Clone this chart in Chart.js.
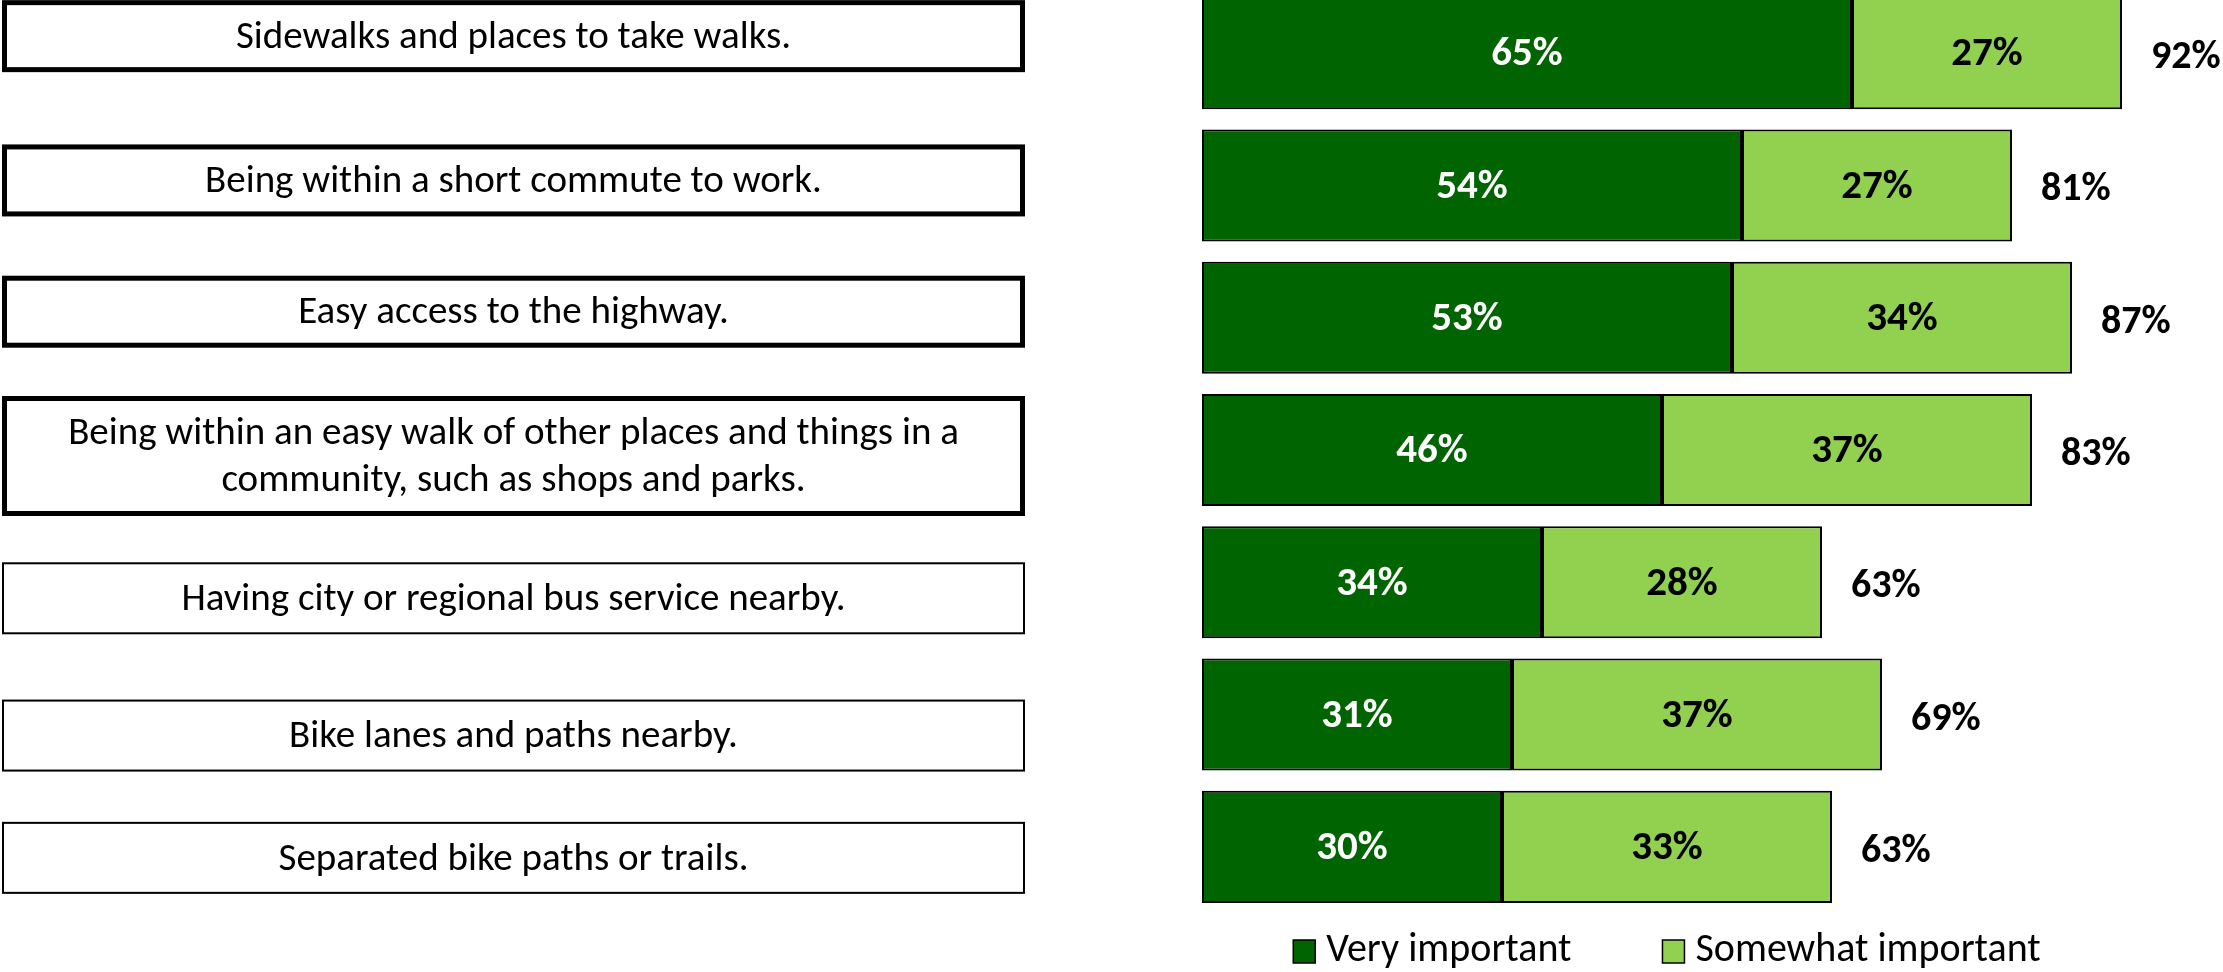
<!DOCTYPE html>
<html>
<head>
<meta charset="utf-8">
<title>Community features</title>
<script src="https://cdn.jsdelivr.net/npm/chart.js@4.4.1/dist/chart.umd.min.js"></script>
<style>
    html, body { margin: 0; padding: 0; background: #fff; overflow: hidden; }
    #wrap { position: absolute; left: 0; top: -13px; width: 2223px; height: 985px; }
</style>
</head>
<body>
<div id="wrap"><canvas id="featureChart"></canvas></div>
<script>
// 各项特征的重要程度
const categories = [
    ['Sidewalks and places to take walks.'],
    ['Being within a short commute to work.'],
    ['Easy access to the highway.'],
    ['Being within an easy walk of other places and things in a', 'community, such as shops and parks.'],
    ['Having city or regional bus service nearby.'],
    ['Bike lanes and paths nearby.'],
    ['Separated bike paths or trails.']
];
const veryImportant = [65, 54, 53, 46, 34, 31, 30];
const somewhatImportant = [27, 27, 34, 37, 28, 37, 33];
const totals = [92, 81, 87, 83, 63, 69, 63];
const seriesNames = ['Very important', 'Somewhat important'];

const FONT = '"Carlito", "Liberation Sans Narrow", "Open Sans", sans-serif';
const DARK = '#006400';
const LIGHT = '#92D050';

// 左侧的文字框
const boxShift = [-17, -5, -6, 6, 16, 21, 11];
const boxBorder = [5, 5, 5, 5, 2, 2, 2];

const labelBoxes = {
    id: 'labelBoxes',
    afterDraw(chart) {
        const ctx = chart.ctx;
        const yScale = chart.scales.y;
        ctx.save();
        categories.forEach((lines, i) => {
            const cy = yScale.getPixelForValue(i) + boxShift[i];
            const h = lines.length > 1 ? 120 : 72;
            const lw = boxBorder[i];
            const left = 2 + lw / 2, right = 1025 - lw / 2;
            ctx.fillStyle = '#fff';
            ctx.strokeStyle = '#000';
            ctx.lineWidth = lw;
            ctx.fillRect(left, cy - h / 2 + lw / 2, right - left, h - lw);
            ctx.strokeRect(left, cy - h / 2 + lw / 2, right - left, h - lw);
            ctx.fillStyle = '#000';
            ctx.font = '39px ' + FONT;
            ctx.textAlign = 'center';
            ctx.textBaseline = 'middle';
            const lh = 47;
            lines.forEach((t, k) => {
                ctx.fillText(t, (left + right) / 2, cy + 2 + (k - (lines.length - 1) / 2) * lh);
            });
        });
        ctx.restore();
    }
};

// 条形内的百分比和右侧合计
const valueLabels = {
    id: 'valueLabels',
    afterDatasetsDraw(chart) {
        const ctx = chart.ctx;
        ctx.save();
        ctx.font = 'bold 41px ' + FONT;
        ctx.textBaseline = 'middle';
        ctx.textAlign = 'center';
        chart.data.datasets.forEach((ds, di) => {
            chart.getDatasetMeta(di).data.forEach((bar, i) => {
                ctx.fillStyle = di === 0 ? '#fff' : '#000';
                ctx.fillText(ds.data[i] + '%', (bar.x + bar.base) / 2, bar.y + 2);
            });
        });
        const last = chart.getDatasetMeta(1).data;
        ctx.font = 'bold 40px ' + FONT;
        ctx.textAlign = 'left';
        ctx.fillStyle = '#000';
        last.forEach((bar, i) => {
            ctx.fillText(totals[i] + '%', bar.x + 29, bar.y + 5);
        });
        ctx.restore();
    }
};

// 底部图例
const bottomLegend = {
    id: 'bottomLegend',
    afterDraw(chart) {
        const ctx = chart.ctx;
        const area = chart.chartArea;
        const colors = [DARK, LIGHT];
        ctx.save();
        ctx.font = '40px ' + FONT;
        ctx.textBaseline = 'middle';
        ctx.textAlign = 'left';
        const box = 22, gapText = 11, gapItem = 91;
        const widths = seriesNames.map(n => ctx.measureText(n).width);
        const total = widths.reduce((a, w) => a + box + gapText + w, 0) + gapItem;
        let x = (area.left + area.right) / 2 + 5 - total / 2;
        const cy = 964;
        seriesNames.forEach((name, i) => {
            ctx.fillStyle = colors[i];
            ctx.fillRect(x, cy - 11, box, box + 1);
            ctx.strokeStyle = '#000';
            ctx.lineWidth = 1.5;
            ctx.strokeRect(x, cy - 11, box, box + 1);
            ctx.fillStyle = '#000';
            ctx.fillText(name, x + box + gapText, cy);
            x += box + gapText + widths[i] + gapItem;
        });
        ctx.restore();
    }
};

const ctx = document.getElementById('featureChart').getContext('2d');
new Chart(ctx, {
    type: 'bar',
    data: {
        labels: categories.map(c => c.join(' ')),
        datasets: [{
            label: seriesNames[0],
            data: veryImportant,
            backgroundColor: DARK,
            borderColor: '#000',
            borderWidth: 2,
            borderSkipped: false
        }, {
            label: seriesNames[1],
            data: somewhatImportant,
            backgroundColor: LIGHT,
            borderColor: '#000',
            borderWidth: 2,
            borderSkipped: false
        }]
    },
    options: {
        indexAxis: 'y',
        responsive: true,
        maintainAspectRatio: false,
        animation: false,
        layout: {
            padding: { left: 1202, right: 101, top: 0, bottom: 59 }
        },
        datasets: {
            bar: { barPercentage: 0.847, categoryPercentage: 1 }
        },
        scales: {
            x: { stacked: true, min: 0, max: 92, display: false },
            y: { stacked: true, display: false }
        },
        plugins: {
            legend: { display: false },
            tooltip: { enabled: false }
        }
    },
    plugins: [labelBoxes, valueLabels, bottomLegend]
});
</script>
</body>
</html>
